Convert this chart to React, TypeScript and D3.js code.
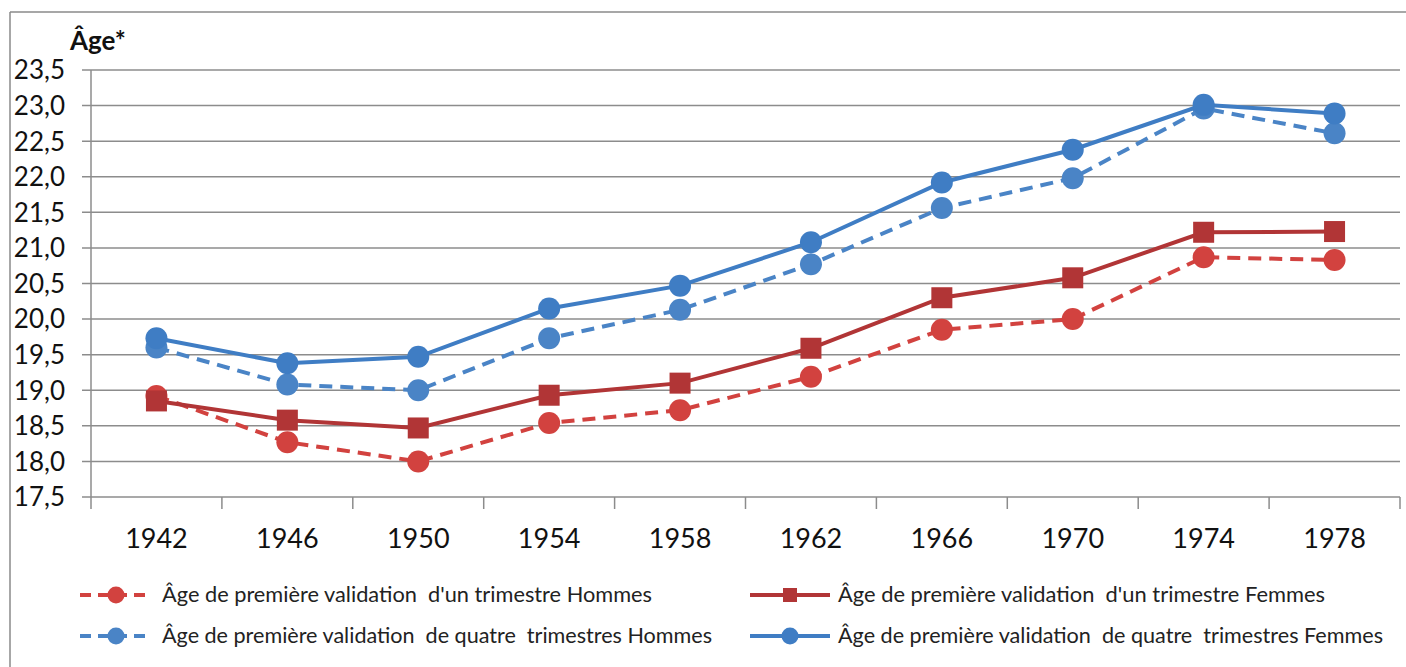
import React from "react";
import * as d3 from "d3";

const years = ["1942", "1946", "1950", "1954", "1958", "1962", "1966", "1970", "1974", "1978"];
const unTrimHommes = [18.92, 18.27, 18.0, 18.54, 18.72, 19.19, 19.85, 20.0, 20.87, 20.83];
const unTrimFemmes = [18.85, 18.58, 18.47, 18.93, 19.1, 19.59, 20.3, 20.58, 21.22, 21.23];
const quatreTrimHommes = [19.6, 19.08, 19.0, 19.73, 20.13, 20.77, 21.56, 21.98, 22.96, 22.61];
const quatreTrimFemmes = [19.73, 19.38, 19.47, 20.15, 20.47, 21.08, 21.92, 22.38, 23.01, 22.89];
const yTicks = [17.5, 18, 18.5, 19, 19.5, 20, 20.5, 21, 21.5, 22, 22.5, 23, 23.5];
const legendLabels = [
  "Âge de première validation  d'un trimestre Hommes",
  "Âge de première validation  d'un trimestre Femmes",
  "Âge de première validation  de quatre  trimestres Hommes",
  "Âge de première validation  de quatre  trimestres Femmes",
];

const RED_D = "#d2423f";
const RED_S = "#b13536";
const BLUE_D = "#4a84c6";
const BLUE_S = "#3f7dc4";

const series = [
  { name: legendLabels[0], values: unTrimHommes, color: RED_D, dashed: true, marker: "circle" },
  { name: legendLabels[1], values: unTrimFemmes, color: RED_S, dashed: false, marker: "square" },
  { name: legendLabels[2], values: quatreTrimHommes, color: BLUE_D, dashed: true, marker: "circle" },
  { name: legendLabels[3], values: quatreTrimFemmes, color: BLUE_S, dashed: false, marker: "circle" },
];

const FONT = "Lato, 'Open Sans', sans-serif";

function Marker({ x, y, color, kind, size }: { x: number; y: number; color: string; kind: string; size: number }) {
  if (kind === "square") {
    return <rect x={x - size} y={y - size} width={size * 2} height={size * 2} fill={color} />;
  }
  return <circle cx={x} cy={y} r={size} fill={color} />;
}

export default function App() {
  const W = 1406;
  const H = 667;
  const left = 91;
  const right = 1400;
  const top = 70;
  const bottom = 497;

  const x = d3.scaleBand<string>().domain(years).range([left, right]).padding(0);
  const y = d3.scaleLinear().domain([17.5, 23.5]).range([bottom, top]);
  const cx = (yr: string) => (x(yr) as number) + x.bandwidth() / 2;

  const line = d3
    .line<number>()
    .x((_, i) => cx(years[i]))
    .y((v) => y(v));

  const boundaries = years.map((yr) => x(yr) as number).concat([right]);

  const legendPos = [
    { lx0: 80, lx1: 152, tx: 162, ty: 595, tw: 490 },
    { lx0: 750, lx1: 830, tx: 838, ty: 595, tw: 487 },
    { lx0: 80, lx1: 152, tx: 162, ty: 636, tw: 550 },
    { lx0: 750, lx1: 830, tx: 838, ty: 636, tw: 545 },
  ];

  return (
    <svg
      width={W}
      height={H}
      style={{ position: "absolute", left: 0, top: 0, background: "#fff" }}
      fontFamily={FONT}
    >
      <rect x={0} y={0} width={W} height={H} fill="#fff" />
      {/* outer border */}
      <line x1={10} y1={12} x2={W} y2={12} stroke="#8a8a8a" strokeWidth={1.5} />
      <line x1={10} y1={12} x2={10} y2={H} stroke="#8a8a8a" strokeWidth={1.5} />

      {/* gridlines + y ticks */}
      {yTicks.map((t) => (
        <g key={t}>
          <line x1={82} x2={right} y1={y(t)} y2={y(t)} stroke="#8c8c8c" strokeWidth={1.5} />
          <text
            x={65}
            y={y(t)}
            dy="0.36em"
            textAnchor="end"
            fontSize={26}
            fill="#111"
          >
            {t.toFixed(1).replace(".", ",")}
          </text>
        </g>
      ))}
      {/* y axis */}
      <line x1={left} x2={left} y1={top} y2={bottom} stroke="#8c8c8c" strokeWidth={1.5} />
      {/* x ticks */}
      {boundaries.map((bx, i) => (
        <line key={i} x1={bx} x2={bx} y1={bottom} y2={509} stroke="#8c8c8c" strokeWidth={1.5} />
      ))}
      {years.map((yr) => (
        <text key={yr} x={cx(yr)} y={548} textAnchor="middle" fontSize={27} fill="#111">
          {yr}
        </text>
      ))}

      {/* title */}
      <text x={70} y={50} fontSize={26} fontWeight="bold" fill="#111">
        Âge*
      </text>

      {/* series */}
      {series.map((s) => (
        <g key={s.name}>
          <path
            d={line(s.values) as string}
            fill="none"
            stroke={s.color}
            strokeWidth={4}
            strokeDasharray={s.dashed ? "13 8" : undefined}
          />
          {s.values.map((v, i) => (
            <Marker
              key={i}
              x={cx(years[i])}
              y={y(v)}
              color={s.color}
              kind={s.marker}
              size={s.marker === "square" ? 10.5 : 11}
            />
          ))}
        </g>
      ))}

      {/* legend */}
      {series.map((s, i) => {
        const p = legendPos[i];
        const mx = (p.lx0 + p.lx1) / 2;
        return (
          <g key={"lg" + i}>
            <line
              x1={p.lx0}
              x2={p.lx1}
              y1={p.ty}
              y2={p.ty}
              stroke={s.color}
              strokeWidth={4}
              strokeDasharray={s.dashed ? "11 7" : undefined}
            />
            <Marker x={mx} y={p.ty} color={s.color} kind={s.marker} size={s.marker === "square" ? 7 : 8.5} />
            <text
              x={p.tx}
              y={p.ty}
              dy="0.35em"
              fontSize={21}
              fill="#222"
              textLength={p.tw}
              lengthAdjust="spacingAndGlyphs"
              style={{ whiteSpace: "pre" }}
            >
              {s.name}
            </text>
          </g>
        );
      })}
    </svg>
  );
}
